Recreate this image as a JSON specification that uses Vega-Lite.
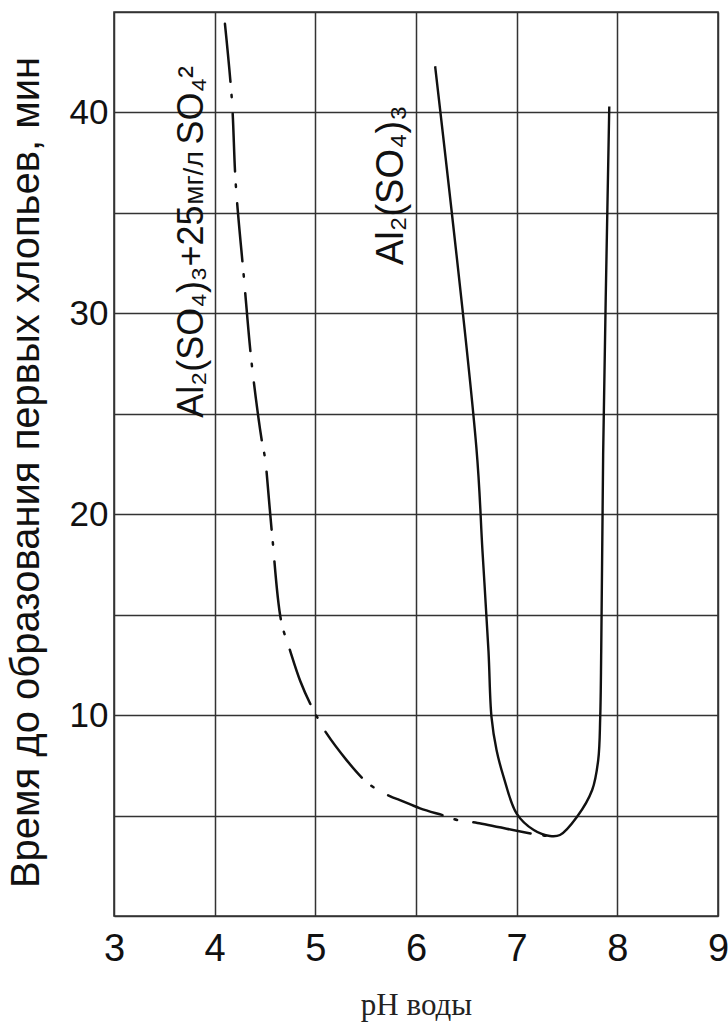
{
  "$schema": "https://vega.github.io/schema/vega-lite/v6.json",
  "width": 604,
  "height": 904,
  "autosize": "none",
  "padding": {"left": 114, "top": 12, "right": 10, "bottom": 110},
  "background": "white",
  "config": {
    "view": {"stroke": "#333", "strokeWidth": 1.6},
    "font": "Liberation Sans"
  },
  "datasets": {
    "curves": [
      {"series": "a", "i": 1, "ph": 6.19, "t": 42.3},
      {"series": "a", "i": 2, "ph": 6.60, "t": 23.3},
      {"series": "a", "i": 3, "ph": 6.66, "t": 18.2},
      {"series": "a", "i": 4, "ph": 6.72, "t": 13.2},
      {"series": "a", "i": 5, "ph": 6.75, "t": 9.9},
      {"series": "a", "i": 6, "ph": 6.80, "t": 8.26},
      {"series": "a", "i": 7, "ph": 6.87, "t": 6.93},
      {"series": "a", "i": 8, "ph": 7.00, "t": 5.1},
      {"series": "a", "i": 9, "ph": 7.17, "t": 4.28},
      {"series": "a", "i": 10, "ph": 7.33, "t": 3.98},
      {"series": "a", "i": 11, "ph": 7.43, "t": 4.03},
      {"series": "a", "i": 12, "ph": 7.60, "t": 4.94},
      {"series": "a", "i": 13, "ph": 7.75, "t": 6.27},
      {"series": "a", "i": 14, "ph": 7.81, "t": 7.76},
      {"series": "a", "i": 15, "ph": 7.83, "t": 9.9},
      {"series": "a", "i": 16, "ph": 7.84, "t": 13.2},
      {"series": "a", "i": 17, "ph": 7.86, "t": 23.3},
      {"series": "a", "i": 18, "ph": 7.92, "t": 40.3},
      {"series": "b", "i": 1, "ph": 4.09, "t": 45.0},
      {"series": "b", "i": 2, "ph": 4.17, "t": 40.7},
      {"series": "b", "i": 3, "ph": 4.21, "t": 36.4},
      {"series": "b", "i": 4, "ph": 4.29, "t": 31.8},
      {"series": "b", "i": 5, "ph": 4.37, "t": 27.4},
      {"series": "b", "i": 6, "ph": 4.47, "t": 23.6},
      {"series": "b", "i": 7, "ph": 4.50, "t": 22.8},
      {"series": "b", "i": 8, "ph": 4.57, "t": 19.0},
      {"series": "b", "i": 9, "ph": 4.66, "t": 14.7},
      {"series": "b", "i": 10, "ph": 4.75, "t": 13.2},
      {"series": "b", "i": 11, "ph": 4.85, "t": 11.7},
      {"series": "b", "i": 12, "ph": 4.96, "t": 10.45},
      {"series": "b", "i": 13, "ph": 5.04, "t": 9.7},
      {"series": "b", "i": 14, "ph": 5.11, "t": 9.1},
      {"series": "b", "i": 15, "ph": 5.31, "t": 7.76},
      {"series": "b", "i": 16, "ph": 5.48, "t": 6.8},
      {"series": "b", "i": 17, "ph": 5.58, "t": 6.4},
      {"series": "b", "i": 18, "ph": 5.74, "t": 5.97},
      {"series": "b", "i": 19, "ph": 5.84, "t": 5.77},
      {"series": "b", "i": 20, "ph": 6.04, "t": 5.36},
      {"series": "b", "i": 21, "ph": 6.29, "t": 4.98},
      {"series": "b", "i": 22, "ph": 6.41, "t": 4.78},
      {"series": "b", "i": 23, "ph": 6.61, "t": 4.63},
      {"series": "b", "i": 24, "ph": 7.23, "t": 4.03},
      {"series": "b", "i": 25, "ph": 7.33, "t": 3.98}
    ],
    "labels": [
      {"text": "Al₂(SO₄)₃+25", "ph": 3.885, "t": 24.8, "size": 36},
      {"text": "мг/л", "ph": 3.885, "t": 35.4, "size": 28},
      {"text": "SO₄²", "ph": 3.885, "t": 38.4, "size": 36},
      {"text": "Al₂(SO₄)₃", "ph": 5.87, "t": 32.4, "size": 38}
    ]
  },
  "layer": [
    {
      "data": {"name": "curves"},
      "transform": [{"filter": "datum.series === 'a'"}],
      "mark": {"type": "line", "color": "#111", "strokeWidth": 2.4, "interpolate": "catmull-rom", "clip": true},
      "encoding": {
        "x": {
          "field": "ph", "type": "quantitative",
          "scale": {"domain": [3, 9], "nice": false, "zero": false},
          "axis": {
            "values": [3, 4, 5, 6, 7, 8, 9], "format": "d",
            "grid": true, "gridColor": "#333", "gridWidth": 1.5, "gridOpacity": 1,
            "domain": false, "ticks": false,
            "labelFont": "Liberation Sans", "labelFontSize": 38, "labelColor": "#111", "labelPadding": 14,
            "labelFlush": false,
            "title": "pH воды", "titleFont": "Liberation Serif", "titleFontWeight": "normal",
            "titleFontSize": 31, "titleColor": "#222", "titlePadding": 22
          }
        },
        "y": {
          "field": "t", "type": "quantitative",
          "scale": {"domain": [0, 45], "nice": false, "zero": true},
          "axis": {
            "values": [0, 5, 10, 15, 20, 25, 30, 35, 40, 45],
            "labelExpr": "datum.value % 10 === 0 && datum.value > 0 ? datum.label : ''",
            "grid": true, "gridColor": "#333", "gridWidth": 1.5, "gridOpacity": 1,
            "domain": false, "ticks": false,
            "labelFont": "Liberation Sans", "labelFontSize": 35, "labelColor": "#111", "labelPadding": 6,
            "labelFlush": false,
            "title": "Время до образования первых хлопьев, мин",
            "titleFont": "Liberation Sans", "titleFontWeight": "normal", "titleFontSize": 40,
            "titleColor": "#111", "titlePadding": 23, "titleY": 460
          }
        },
        "order": {"field": "i", "type": "quantitative"}
      }
    },
    {
      "data": {"name": "curves"},
      "transform": [{"filter": "datum.series === 'b'"}],
      "mark": {"type": "line", "color": "#111", "strokeWidth": 2.5, "interpolate": "catmull-rom", "clip": true,
               "strokeDash": [58, 13, 2.5, 16.5], "strokeDashOffset": -12, "strokeCap": "round"},
      "encoding": {
        "x": {"field": "ph", "type": "quantitative"},
        "y": {"field": "t", "type": "quantitative"},
        "order": {"field": "i", "type": "quantitative"}
      }
    },
    {
      "data": {"name": "labels"},
      "mark": {"type": "text", "angle": 270, "align": "left", "baseline": "alphabetic",
               "font": "Liberation Sans", "color": "#111"},
      "encoding": {
        "x": {"field": "ph", "type": "quantitative"},
        "y": {"field": "t", "type": "quantitative"},
        "text": {"field": "text"},
        "size": {"field": "size", "type": "quantitative", "scale": null}
      }
    }
  ]
}
